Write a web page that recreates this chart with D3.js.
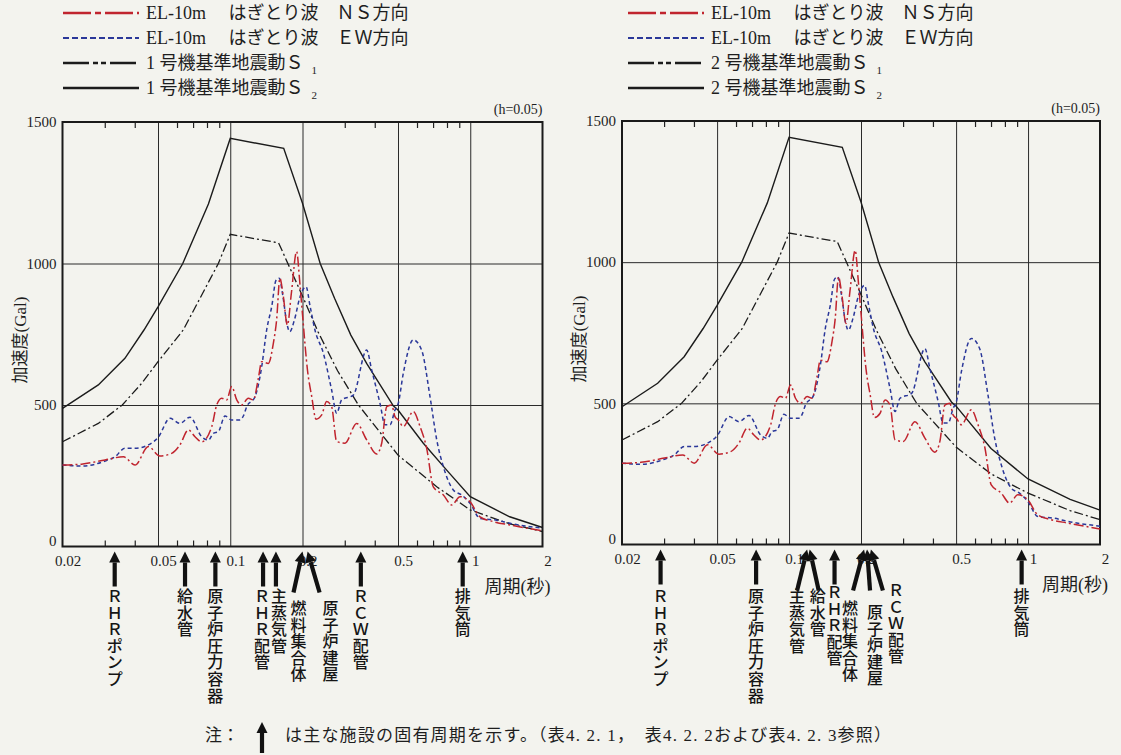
<!DOCTYPE html>
<html>
<head>
<meta charset="utf-8">
<title>はぎとり波と基準地震動の応答スペクトル</title>
<script src="https://cdn.jsdelivr.net/npm/d3@7"></script>
<style>
  body { margin: 0; background: #f3f3ee; }
  svg { display: block; background: #f3f3ee; }
  text { font-family: "Liberation Serif", "Noto Sans CJK JP", serif; fill: #1e1e1e; }
  .grid line { stroke: #2a2a2a; stroke-width: 1; }
  .grid path, .ticks path, .lbl path { display: none; }
  .ticks line { stroke: #222; stroke-width: 1.2; }
  .frame { fill: none; stroke: #1a1a1a; stroke-width: 2; }
  .lbl text { font-family: "Liberation Serif", serif; font-size: 15px; }
  .fac text { font-family: "Noto Sans CJK JP", sans-serif; font-size: 16px; font-weight: 500; fill: #151515; }
</style>
</head>
<body>
<script>

// --- axis ticks ---
var majorTicks = [0.02, 0.05, 0.1, 0.2, 0.5, 1, 2];
var majorLabels = ['0.02', '0.05', '0.1', '0.2', '0.5', '1', '2'];
var gridPeriods = [0.05, 0.1, 0.2, 0.5, 1];
var minorTicks = [0.03, 0.04, 0.06, 0.07, 0.08, 0.09, 0.3, 0.4, 0.6, 0.7, 0.8, 0.9];
var accelTicks = [0, 500, 1000, 1500];
var gridAccel = [500, 1000];

// --- EL-10m はぎとり波 NS ---
var nsPeriod = [0.02, 0.024, 0.0301, 0.0359, 0.0401, 0.0456, 0.0509, 0.057, 0.0617, 0.0669, 0.0713, 0.076, 0.0837, 0.0878, 0.0921, 0.0966, 0.1014, 0.1064, 0.1116, 0.1189, 0.1248, 0.1309, 0.1352, 0.1441, 0.1512, 0.156, 0.161, 0.166, 0.173, 0.18, 0.189, 0.195, 0.2, 0.21, 0.2185, 0.2277, 0.2404, 0.2522, 0.2645, 0.2776, 0.3006, 0.3362, 0.3702, 0.4074, 0.4276, 0.4487, 0.4706, 0.4856, 0.5013, 0.5261, 0.5791, 0.6177, 0.6583, 0.7016, 0.7727, 0.8369, 0.9064, 0.9976, 1.0985, 1.2474, 1.464, 2];
var nsAccel  = [288, 291, 306, 317, 288, 353, 320, 329, 359, 412, 388, 370, 423, 500, 524, 518, 565, 518, 500, 524, 518, 594, 653, 647, 718, 800, 948, 890, 783, 900, 1042, 930, 820, 620, 530, 450, 465, 512, 494, 371, 365, 435, 377, 327, 365, 494, 500, 459, 447, 424, 477, 424, 347, 211, 182, 147, 176, 158, 105, 88, 76, 55];

// --- EL-10m はぎとり波 EW ---
var ewPeriod = [0.02, 0.024, 0.0301, 0.0331, 0.0364, 0.0401, 0.0456, 0.0501, 0.0561, 0.0617, 0.068, 0.076, 0.0811, 0.085, 0.0892, 0.0951, 0.1014, 0.1098, 0.1134, 0.1171, 0.1268, 0.1352, 0.1418, 0.149, 0.155, 0.16, 0.166, 0.172, 0.177, 0.185, 0.195, 0.207, 0.215, 0.2254, 0.2443, 0.2645, 0.2776, 0.2912, 0.3256, 0.3702, 0.3883, 0.4207, 0.4414, 0.4634, 0.4856, 0.5013, 0.5261, 0.5791, 0.6272, 0.6796, 0.7249, 0.7727, 0.8497, 0.9208, 0.9976, 1.0985, 1.288, 1.464, 2];
var ewAccel  = [288, 284, 302, 317, 347, 347, 359, 386, 453, 435, 457, 388, 376, 400, 406, 461, 447, 447, 461, 494, 529, 635, 765, 850, 940, 948, 880, 790, 759, 800, 880, 918, 850, 765, 683, 553, 471, 518, 535, 694, 624, 506, 430, 430, 482, 506, 612, 730, 694, 530, 377, 282, 200, 182, 153, 99, 93, 82, 65];

// --- 基準地震動 S1 / S2 (1号機) ---
var s1Unit1Period = [0.02, 0.0282, 0.0355, 0.0428, 0.05, 0.0637, 0.0892, 0.1, 0.159, 0.2, 0.232, 0.28, 0.342, 0.5, 0.725, 1, 1.46, 2];
var s1Unit1Accel  = [370, 435, 500, 577, 653, 765, 1000, 1103, 1073, 885, 759, 621, 500, 323, 211, 129, 80, 53];
var s2Unit1Period = [0.02, 0.0282, 0.0364, 0.0437, 0.05, 0.0634, 0.0811, 0.1, 0.167, 0.2, 0.237, 0.272, 0.318, 0.37, 0.478, 0.5, 0.6375, 0.7977, 1, 1.46, 2];
var s2Unit1Accel  = [488, 571, 665, 765, 847, 1000, 1210, 1442, 1407, 1213, 1000, 877, 747, 647, 497, 482, 365, 270, 176, 105, 67];

// --- 基準地震動 S1 / S2 (2号機) ---
var s1Unit2Period = [0.02, 0.0282, 0.0355, 0.0428, 0.05, 0.0637, 0.0892, 0.1, 0.159, 0.2, 0.232, 0.28, 0.342, 0.5, 0.7, 1, 1.5, 2];
var s1Unit2Accel  = [370, 435, 500, 577, 653, 765, 1000, 1103, 1073, 885, 759, 621, 500, 345, 250, 182, 120, 88];
var s2Unit2Period = [0.02, 0.0282, 0.0364, 0.0437, 0.05, 0.0634, 0.0811, 0.1, 0.167, 0.2, 0.237, 0.272, 0.318, 0.37, 0.478, 0.5, 0.7, 1, 1.5, 2];
var s2Unit2Accel  = [488, 571, 665, 765, 847, 1000, 1210, 1442, 1407, 1213, 1000, 877, 747, 647, 505, 490, 340, 232, 160, 122];

// --- 主な施設の固有周期 ---
var fac1Names   = ['ＲＨＲポンプ', '給水管', '原子炉圧力容器', 'ＲＨＲ配管', '主蒸気管', '燃料集合体', '原子炉建屋', 'ＲＣＷ配管', '排気筒'];
var fac1Periods = [0.033, 0.0648, 0.0867, 0.137, 0.155, 0.2, 0.21, 0.35, 0.93];
var fac2Names   = ['ＲＨＲポンプ', '原子炉圧力容器', '主蒸気管', '給水管', 'ＲＨＲ配管', '燃料集合体', '原子炉建屋', 'ＲＣＷ配管', '排気筒'];
var fac2Periods = [0.029, 0.0728, 0.119, 0.122, 0.155, 0.206, 0.212, 0.22, 0.94];

// layout of the arrows: [tail dx, label dx, label top]
var fac1Layout = [[0,0,588],[0,0,588],[0,0,588],[0,-1,588],[0,3,588],[-9,-4,600],[12,23,600],[0,0,588],[0,0,588]];
var fac2Layout = [[0,0,588],[0,0,588],[-10,-10,588],[9,8,588],[0,0,584],[-11,-14,600],[3,8,604],[12,25,582],[0,0,588]];

var W = 1121, H = 755;
var svg = d3.select('body').append('svg').attr('width', W).attr('height', H);

var panels = [
  { left: 62.5, right: 542.5, bottom: 546.5, top: 122, unit: '1',
    s1: [s1Unit1Period, s1Unit1Accel], s2: [s2Unit1Period, s2Unit1Accel],
    facNames: fac1Names, facPeriods: fac1Periods, facLayout: fac1Layout, legendX: 63 },
  { left: 622, right: 1100, bottom: 544.5, top: 121, unit: '2',
    s1: [s1Unit2Period, s1Unit2Accel], s2: [s2Unit2Period, s2Unit2Accel],
    facNames: fac2Names, facPeriods: fac2Periods, facLayout: fac2Layout, legendX: 628 }
];

function zipPts(p, a) {
  return p.map(function(d, i) { return [d, a[i]]; });
}

function arrow(g, x1, y1, x2, y2) {
  // tail (x1,y1) -> tip (x2,y2)
  var dx = x2 - x1, dy = y2 - y1, len = Math.sqrt(dx*dx + dy*dy);
  var ux = dx / len, uy = dy / len, hl = 11, hw = 5.5;
  var bx = x2 - ux*hl, by = y2 - uy*hl;
  g.append('line')
    .attr('x1', x1).attr('y1', y1).attr('x2', bx).attr('y2', by)
    .attr('stroke', '#111').attr('stroke-width', 4.2);
  g.append('path')
    .attr('d', 'M' + x2 + ',' + y2 + 'L' + (bx - uy*hw) + ',' + (by + ux*hw) + 'L' + (bx + uy*hw) + ',' + (by - ux*hw) + 'Z')
    .attr('fill', '#111');
}

// one character per line, stacked top to bottom
function vtext(g, s, cx, top) {
  Array.from(s).forEach(function(c, i) {
    g.append('text')
      .attr('x', cx).attr('y', top + i*16.6 + 14)
      .attr('text-anchor', 'middle')
      .text(c);
  });
}

panels.forEach(function(p) {
  var x = d3.scaleLog().domain([0.02, 2]).range([p.left, p.right]);
  var y = d3.scaleLinear().domain([0, 1500]).range([p.bottom, p.top]);
  var g = svg.append('g');
  var h = p.bottom - p.top, w = p.right - p.left;

  // grid
  g.append('g').attr('class', 'grid')
    .attr('transform', 'translate(0,' + p.bottom + ')')
    .call(d3.axisBottom(x).tickValues(gridPeriods).tickSize(-h).tickFormat(''));
  g.append('g').attr('class', 'grid')
    .attr('transform', 'translate(' + p.left + ',0)')
    .call(d3.axisLeft(y).tickValues(gridAccel).tickSize(-w).tickFormat(''));

  // minor ticks, inward on top and bottom
  g.append('g').attr('class', 'ticks')
    .attr('transform', 'translate(0,' + p.bottom + ')')
    .call(d3.axisBottom(x).tickValues(minorTicks).tickSize(-6).tickFormat(''));
  g.append('g').attr('class', 'ticks')
    .attr('transform', 'translate(0,' + p.top + ')')
    .call(d3.axisTop(x).tickValues(minorTicks).tickSize(-6).tickFormat(''));

  // tick labels
  var xl = g.append('g').attr('class', 'lbl')
    .attr('transform', 'translate(0,' + p.bottom + ')')
    .call(d3.axisBottom(x).tickValues(majorTicks).tickSize(0).tickPadding(9)
      .tickFormat(function(d, i) { return majorLabels[i]; }));
  xl.attr('font-family', null).attr('font-size', null);
  xl.selectAll('text').attr('dx', 5);
  var yl = g.append('g').attr('class', 'lbl')
    .attr('transform', 'translate(' + p.left + ',0)')
    .call(d3.axisLeft(y).tickValues(accelTicks).tickSize(0).tickPadding(6).tickFormat(d3.format('d')));
  yl.attr('font-family', null).attr('font-size', null);
  yl.selectAll('text').filter(function(d) { return d === 0; }).attr('dy', '-0.05em');

  // frame
  g.append('rect').attr('class', 'frame')
    .attr('x', p.left).attr('y', p.top).attr('width', w).attr('height', h);

  // curves
  var lin = d3.line().x(function(d) { return x(d[0]); }).y(function(d) { return y(d[1]); });
  var smooth = d3.line().curve(d3.curveMonotoneX)
    .x(function(d) { return x(d[0]); }).y(function(d) { return y(d[1]); });

  g.append('path').datum(zipPts(p.s2[0], p.s2[1])).attr('d', lin)
    .attr('fill', 'none').attr('stroke', '#1b1b1b').attr('stroke-width', 1.4);
  g.append('path').datum(zipPts(p.s1[0], p.s1[1])).attr('d', lin)
    .attr('fill', 'none').attr('stroke', '#1b1b1b').attr('stroke-width', 1.3)
    .attr('stroke-dasharray', '9,3,2,3');
  g.append('path').datum(zipPts(ewPeriod, ewAccel)).attr('d', smooth)
    .attr('fill', 'none').attr('stroke', '#2a3799').attr('stroke-width', 1.5)
    .attr('stroke-dasharray', '4,3');
  g.append('path').datum(zipPts(nsPeriod, nsAccel)).attr('d', smooth)
    .attr('fill', 'none').attr('stroke', '#c0242e').attr('stroke-width', 1.5)
    .attr('stroke-dasharray', '10,3,2,3');

  // labels around the plot
  g.append('text').attr('x', p.right).attr('y', p.top - 8)
    .attr('text-anchor', 'end').style('font-size', '14px').text('(h=0.05)');
  g.append('text')
    .attr('transform', 'translate(' + (p.left - 37) + ',' + (p.top + 218) + ') rotate(-90)')
    .attr('text-anchor', 'middle').style('font-size', '17px').text('加速度(Gal)');
  g.append('text')
    .attr('x', p.right + 8).attr('y', p.bottom + 46)
    .attr('text-anchor', 'end').style('font-size', '18px').text('周期(秒)');

  // legend
  var lg = g.append('g');
  var rows = [
    { txt: 'EL-10m　 はぎとり波　ＮＳ方向', stroke: '#c0242e', dash: '28,4,6,4', sw: 2.6 },
    { txt: 'EL-10m　 はぎとり波　ＥＷ方向', stroke: '#2a3799', dash: '6,3', sw: 2.2 },
    { txt: p.unit + ' 号機基準地震動Ｓ', sub: '1', stroke: '#1b1b1b', dash: '26,4,5,3,5,4', sw: 2.6 },
    { txt: p.unit + ' 号機基準地震動Ｓ', sub: '2', stroke: '#1b1b1b', dash: null, sw: 2.6 }
  ];
  rows.forEach(function(r, i) {
    var ry = 13 + i*25;
    lg.append('line')
      .attr('x1', p.legendX).attr('x2', p.legendX + 76).attr('y1', ry).attr('y2', ry)
      .attr('stroke', r.stroke).attr('stroke-width', r.sw)
      .attr('stroke-dasharray', r.dash);
    var t = lg.append('text')
      .attr('x', p.legendX + 83).attr('y', ry + 6).style('font-size', '18px').text(r.txt);
    if (r.sub) {
      t.append('tspan').attr('dx', 8).attr('dy', 5).style('font-size', '11px').text(r.sub);
    }
  });

  // facility arrows with vertical labels
  var fg = g.append('g').attr('class', 'fac');
  p.facNames.forEach(function(name, i) {
    var lay = p.facLayout[i];
    var tipX = x(p.facPeriods[i]);
    var tipY = p.bottom + 5;
    var slant = lay[0] !== 0;
    arrow(fg, tipX + lay[0], slant ? p.bottom + 46 : p.bottom + 40, tipX, tipY);
    vtext(fg, name, tipX + lay[1], lay[2]);
  });
});

// note
var note = svg.append('g');
note.append('text').attr('x', 205).attr('y', 741).style('font-size', '17px').text('注：');
arrow(note, 262, 753, 262, 722);
note.append('text').attr('x', 285).attr('y', 741).style('font-size', '17px')
  .attr('textLength', 606).attr('lengthAdjust', 'spacing')
  .text('は主な施設の固有周期を示す。（表4. 2. 1，　表4. 2. 2および表4. 2. 3参照）');

</script>
</body>
</html>
